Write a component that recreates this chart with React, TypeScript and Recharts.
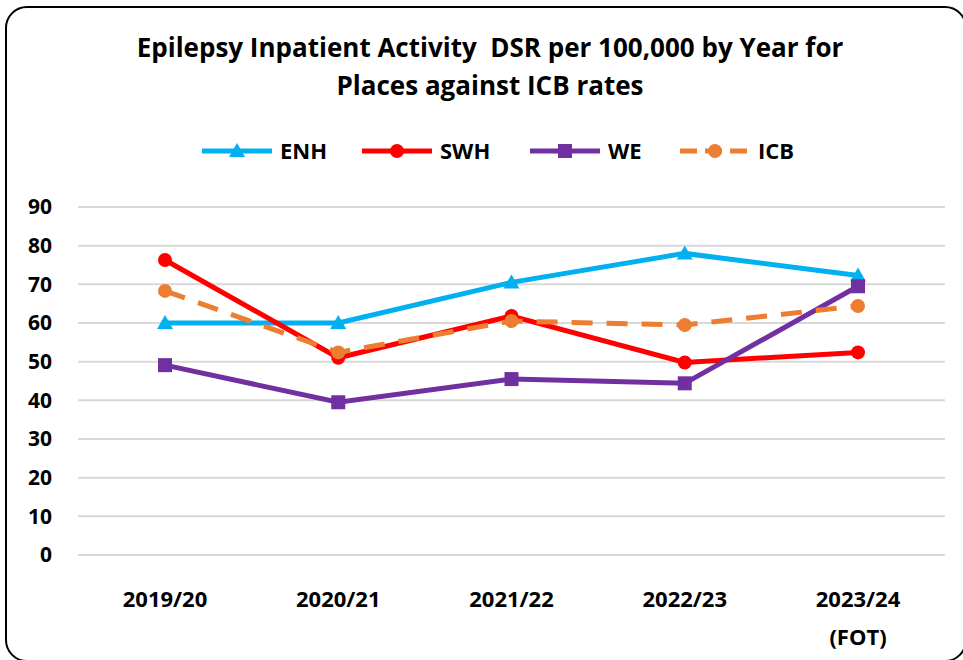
import { LineChart, Line, XAxis, YAxis, CartesianGrid } from "recharts";

const years = ["2019/20", "2020/21", "2021/22", "2022/23", "2023/24 (FOT)"];
const enh = [60, 60, 70.5, 78, 72.3];
const swh = [76.3, 51, 61.8, 49.8, 52.4];
const we = [49.1, 39.5, 45.5, 44.4, 69.5];
const icb = [68.3, 52.4, 60.5, 59.5, 64.4];
const yTicks = [0, 10, 20, 30, 40, 50, 60, 70, 80, 90];

const data = years.map((y, i) => ({
  year: y,
  ENH: enh[i],
  SWH: swh[i],
  WE: we[i],
  ICB: icb[i],
}));

const FONT = "'Open Sans', 'Liberation Sans', sans-serif";

const series = [
  { key: "ENH", color: "#00B0F0", shape: "triangle", dash: undefined },
  { key: "SWH", color: "#FF0000", shape: "circle", dash: undefined },
  { key: "WE", color: "#7030A0", shape: "square", dash: undefined },
  { key: "ICB", color: "#ED7D31", shape: "circle", dash: "21 14" },
];

function marker(shape: string, color: string, cx: number, cy: number, key?: string) {
  if (shape === "triangle") {
    return (
      <polygon
        key={key}
        points={`${cx},${cy - 8} ${cx + 8},${cy + 6} ${cx - 8},${cy + 6}`}
        fill={color}
      />
    );
  }
  if (shape === "square") {
    return <rect key={key} x={cx - 7} y={cy - 7} width={14} height={14} fill={color} />;
  }
  return <circle key={key} cx={cx} cy={cy} r={7} fill={color} />;
}

function makeDot(shape: string, color: string) {
  return (p: any) => marker(shape, color, p.cx, p.cy, `${p.dataKey}-${p.index}`);
}

function XTick(props: any) {
  const { x, y, payload } = props;
  const v: string = payload.value;
  const parts = v.includes(" ") ? v.split(" ") : [v];
  return (
    <g>
      {parts.map((t, i) => (
        <text
          key={i}
          x={x}
          y={y + 44 + i * 38}
          textAnchor="middle"
          fill="#000"
          fontSize={22}
          fontWeight={700}
          fontFamily={FONT}
        >
          {t}
        </text>
      ))}
    </g>
  );
}

const legendX = [202, 362, 530, 680];

export default function App() {
  return (
    <div
      style={{
        position: "absolute",
        left: 0,
        top: 0,
        width: 963,
        height: 660,
        background: "#fff",
        overflow: "hidden",
        fontFamily: FONT,
      }}
    >
      <div
        style={{
          position: "absolute",
          left: 5,
          top: 6,
          width: 962,
          height: 656,
          border: "2px solid #000",
          borderRadius: 22,
          boxSizing: "border-box",
        }}
      />
      <div
        style={{
          position: "absolute",
          left: 0,
          top: 28,
          width: 980,
          textAlign: "center",
          fontSize: 26,
          fontWeight: 700,
          lineHeight: "38px",
          color: "#000",
        }}
      >
        Epilepsy Inpatient Activity&nbsp;&nbsp;DSR per 100,000 by Year for
        <br />
        Places against ICB rates
      </div>
      <svg
        style={{ position: "absolute", left: 0, top: 0 }}
        width={963}
        height={200}
      >
        {series.map((s, i) => (
          <g key={s.key}>
            <line
              x1={legendX[i]}
              x2={legendX[i] + 70}
              y1={151}
              y2={151}
              stroke={s.color}
              strokeWidth={5}
              strokeDasharray={s.dash ? "17 8" : undefined}
            />
            {marker(s.shape, s.color, legendX[i] + 35, 151)}
            <text
              x={legendX[i] + 78}
              y={159}
              fontSize={22}
              fontWeight={700}
              fontFamily={FONT}
              fill="#000"
            >
              {s.key}
            </text>
          </g>
        ))}
      </svg>
      <div style={{ position: "absolute", left: 0, top: 0 }}>
        <LineChart
          width={963}
          height={660}
          data={data}
          margin={{ top: 207, right: 18, left: 0, bottom: 0 }}
        >
          <CartesianGrid vertical={false} stroke="#D9D9D9" strokeWidth={2} />
          <XAxis
            dataKey="year"
            axisLine={false}
            tickLine={false}
            height={105}
            interval={0}
            padding={{ left: 87, right: 87 }}
            tick={<XTick />}
          />
          <YAxis
            domain={[0, 90]}
            ticks={yTicks}
            axisLine={false}
            tickLine={false}
            tickSize={0}
            tickMargin={26}
            width={78}
            tick={{ fill: "#000", fontSize: 21, fontWeight: 700, fontFamily: FONT }}
          />
          {series.map((s) => (
            <Line
              key={s.key}
              dataKey={s.key}
              stroke={s.color}
              strokeWidth={5}
              strokeDasharray={s.dash}
              dot={makeDot(s.shape, s.color)}
              activeDot={false}
              isAnimationActive={false}
            />
          ))}
        </LineChart>
      </div>
    </div>
  );
}
